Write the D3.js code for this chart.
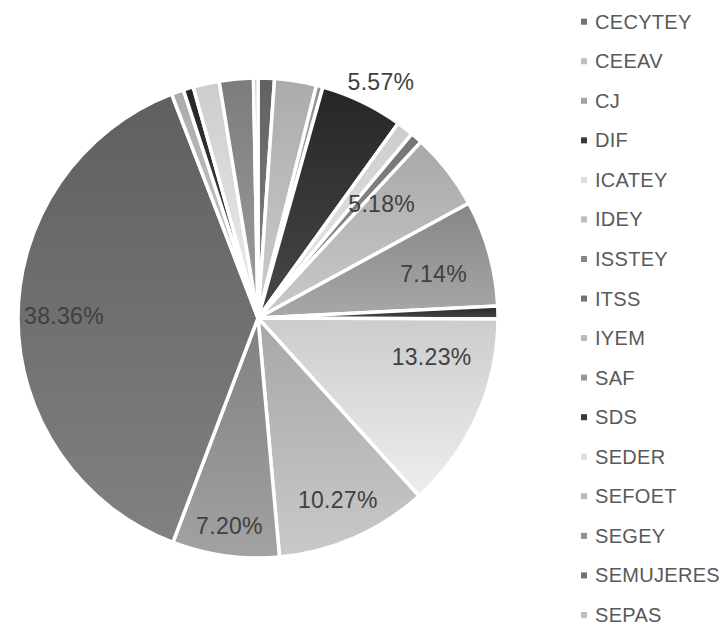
<!DOCTYPE html>
<html>
<head>
<meta charset="utf-8">
<script src="https://cdn.jsdelivr.net/npm/d3@7"></script>
<style>
  body { margin: 0; background: #fff; }
  text { font-family: "Liberation Sans", Arial, sans-serif; }
</style>
</head>
<body>
<div class="d3-container"></div>
<script>
// categories in Excel order (legend only has room for the first ones)
const categories = ["CECYTEY", "CEEAV", "CJ", "DIF", "ICATEY", "IDEY", "ISSTEY", "ITSS",
  "IYEM", "SAF", "SDS", "SEDER", "SEFOET", "SEGEY", "SEMUJERES", "SEPAS",
  "SSP", "SSY", "UADY", "UTM"];
const shares = [1.10, 2.82, 0.44, 5.57, 1.15, 0, 0.80, 0,
  5.18, 7.14, 0.86, 13.23, 10.27, 7.20, 38.36, 0.83,
  0.68, 1.76, 2.29, 0.30];
const shades = ["#737373", "#bdbdbd", "#a3a3a3", "#383838", "#dedede", "#bdbdbd", "#868686", "#737373",
  "#bababa", "#989898", "#383838", "#dedede", "#b9b9b9", "#929292", "#717171", "#bdbdbd",
  "#383838", "#dedede", "#8e8e8e", "#c8c8c8"];

const width = 725;
const height = 625;
const cx = 258, cy = 318, R = 240;

const data = categories.map((c, i) => ({name: c, value: shares[i], color: shades[i]}));

const svg = d3.select(".d3-container")
  .append("svg")
  .attr("width", width)
  .attr("height", height)
  .attr("viewBox", [0, 0, width, height]);

function shift(c, k) {
  const r = d3.rgb(c);
  const f = v => Math.max(0, Math.min(255, v + k));
  return d3.rgb(f(r.r), f(r.g), f(r.b)).formatHex();
}

// vertical gradient per slice, darker at the top
const defs = svg.append("defs");
data.forEach((d, i) => {
  const g = defs.append("linearGradient")
    .attr("id", "grad" + i)
    .attr("x1", 0).attr("y1", 0).attr("x2", 0).attr("y2", 1);
  g.append("stop").attr("offset", "0%").attr("stop-color", shift(d.color, -18));
  g.append("stop").attr("offset", "100%").attr("stop-color", shift(d.color, 16));
});

const pie = d3.pie().sort(null).value(d => d.value);
const arc = d3.arc().innerRadius(0).outerRadius(R);
const arcs = pie(data);

const g = svg.append("g").attr("transform", `translate(${cx},${cy})`);

g.selectAll("path")
  .data(arcs.filter(a => a.data.value > 0))
  .join("path")
  .attr("d", arc)
  .attr("fill", a => `url(#grad${data.indexOf(a.data)})`)
  .attr("stroke", "#fff")
  .attr("stroke-width", 3.5)
  .attr("stroke-linejoin", "round");

// data labels only on the big slices
const outside = ["DIF"];
// small nudges [degrees, px] to follow Excel's best-fit placement
const labelNudge = {IYEM: [-4.7, -27], SAF: [1.7, -11], SEDER: [-11.3, -8], SEMUJERES: [0.8, 7], DIF: [1.8, -4]};

function boxDist(x, y, w, h, far) {
  const xs = [x - w / 2, x + w / 2], ys = [y - h / 2, y + h / 2];
  if (far) {
    return d3.max(xs.flatMap(a => ys.map(b => Math.hypot(a, b))));
  }
  const nx = Math.max(xs[0], Math.min(0, xs[1])), ny = Math.max(ys[0], Math.min(0, ys[1]));
  return Math.hypot(nx, ny);
}

const labels = g.append("g")
  .selectAll("text")
  .data(arcs.filter(a => a.data.value >= 5))
  .join("text")
  .attr("font-size", 23)
  .attr("letter-spacing", "0.3px")
  .attr("fill", "#404040")
  .attr("text-anchor", "middle")
  .attr("dy", "0.35em")
  .text(a => a.data.value.toFixed(2) + "%");

labels.each(function(a) {
  const w = this.getComputedTextLength(), h = 22;
  const nud = labelNudge[a.data.name] || [0, 0];
  const ang = (a.startAngle + a.endAngle) / 2 + nud[0] * Math.PI / 180;
  const sx = Math.sin(ang), sy = -Math.cos(ang);
  let r;
  if (outside.includes(a.data.name)) {
    r = R;
    while (boxDist(r * sx, r * sy, w, h, false) < R + 6) r += 1;
  } else {
    r = R;
    while (r > 0 && boxDist(r * sx, r * sy, w, h, true) > R - 12) r -= 1;
  }
  r += nud[1];
  d3.select(this).attr("x", r * sx).attr("y", r * sy);
});

// legend: rows that do not fit in the chart height are dropped, as Excel does
const rowStep = 39.55, rowTop = 21.7;
const legendRows = data.filter((d, i) => rowTop + i * rowStep + 10 <= height);

const legend = svg.append("g")
  .selectAll("g")
  .data(legendRows)
  .join("g")
  .attr("transform", (d, i) => `translate(581, ${rowTop + i * rowStep})`);

legend.append("rect")
  .attr("x", 0).attr("y", -3)
  .attr("width", 6).attr("height", 6)
  .attr("fill", d => d.color);

legend.append("text")
  .attr("x", 14)
  .attr("dy", "0.35em")
  .attr("font-size", 20)
  .attr("letter-spacing", "0.3px")
  .attr("fill", "#595959")
  .text(d => d.name);

svg.node();
</script>
</body>
</html>
